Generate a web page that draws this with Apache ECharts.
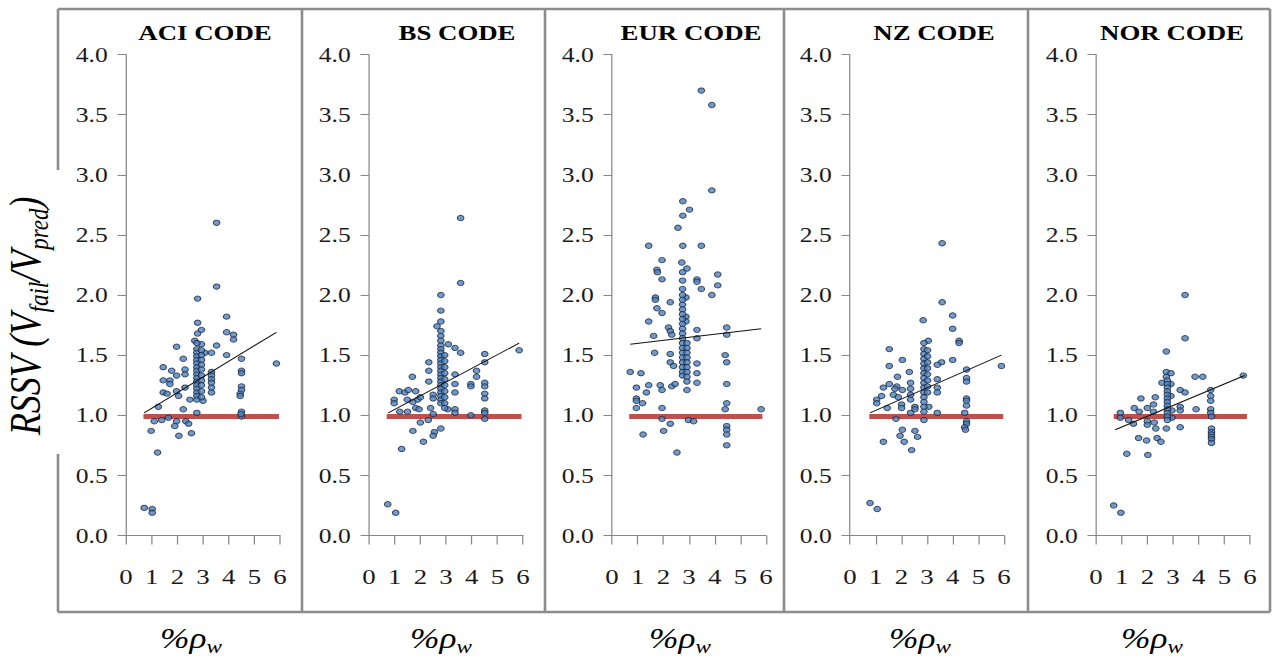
<!DOCTYPE html>
<html><head><meta charset="utf-8">
<script src="https://cdn.jsdelivr.net/npm/echarts@6.0.0/dist/echarts.min.js"></script>
<style>
html,body{margin:0;padding:0;background:#fff;overflow:hidden}
#wrap{width:1275px;height:659px;overflow:hidden}
#main{width:1045px;height:659px;transform:scaleX(1.22);transform-origin:0 0}
</style></head>
<body><div id="wrap"><div id="main"></div></div>
<script>
// ---------------- data ----------------
const panelTitles = ['ACI CODE', 'BS CODE', 'EUR CODE', 'NZ CODE', 'NOR CODE'];
const xTicks = [0, 1, 2, 3, 4, 5, 6];
const yTicks = [0, 0.5, 1, 1.5, 2, 2.5, 3, 3.5, 4];

const aciPoints = [
[0.71,0.23],[1.02,0.22],[1.02,0.19],[1.23,0.69],[0.98,0.87],[1.10,0.95],[1.39,0.96],[1.65,0.98],[1.97,0.95],[1.90,0.91],[2.33,0.95],[2.44,0.93],[2.55,0.85],[2.06,0.83],
[1.26,1.07],[2.23,1.05],[2.76,1.02],[4.50,1.03],[4.50,0.99],[4.48,1.01],
[1.45,1.19],[1.60,1.18],[1.97,1.20],[2.05,1.16],[2.30,1.23],[2.49,1.13],[3.00,1.12],[3.33,1.19],
[4.50,1.24],[4.50,1.21],[4.45,1.18],[4.45,1.16],
[1.45,1.29],[1.71,1.29],[1.71,1.26],[1.97,1.33],[1.45,1.40],[1.78,1.37],[2.30,1.38],[2.30,1.34],[4.50,1.37],[4.50,1.35],
[3.33,1.36],[3.33,1.33],[3.33,1.30],[3.33,1.27],[3.33,1.23],
[2.23,1.47],[4.50,1.47],[5.86,1.43],[1.97,1.57],[3.53,1.58],[3.07,1.52],[3.33,1.52],[3.92,1.50],
[2.94,1.59],[2.68,1.62],[4.19,1.67],[4.19,1.63],[2.79,1.68],[3.92,1.69],[2.94,1.71],[2.79,1.77],[3.92,1.82],[2.79,1.97],[3.53,2.07],[3.53,2.60],
[2.76,1.60],[2.76,1.55],[2.76,1.52],[2.76,1.49],[2.76,1.46],[2.76,1.43],[2.76,1.40],[2.76,1.37],[2.76,1.34],[2.76,1.31],[2.76,1.28],[2.76,1.25],[2.76,1.22],[2.76,1.19],[2.76,1.16],[2.76,1.13],
[2.94,1.54],[2.94,1.50],[2.94,1.46],[2.94,1.42],[2.94,1.38],[2.94,1.33],[2.94,1.29],[2.94,1.25],[2.94,1.20],[2.94,1.15]
];
const bsPoints = [
[0.73,0.26],[1.04,0.19],[1.27,0.72],[2.12,0.78],[1.71,0.87],[2.55,0.86],[2.50,0.83],[2.80,0.89],[2.00,0.94],[2.31,0.96],
[1.20,1.03],[1.50,1.03],[2.50,1.01],[3.07,1.05],[3.35,1.05],[3.35,1.02],[3.97,1.00],[4.51,1.04],[4.51,1.02],[4.51,0.97],
[2.40,1.06],[1.82,1.06],[1.95,1.05],
[0.98,1.13],[0.98,1.10],[1.49,1.13],[1.71,1.11],[1.90,1.13],[2.00,1.15],[2.50,1.17],[2.50,1.14],
[1.18,1.20],[1.40,1.19],[1.53,1.21],[1.82,1.20],
[4.51,1.27],[4.51,1.24],[4.51,1.18],[4.51,1.14],[3.97,1.26],[3.97,1.24],[4.19,1.37],[4.19,1.32],
[3.35,1.34],[3.35,1.26],[3.35,1.19],[1.69,1.32],[2.33,1.44],[2.33,1.37],[2.33,1.28],
[4.51,1.51],[4.51,1.44],[5.85,1.54],[3.09,1.59],[3.35,1.56],[3.57,1.52],
[2.80,2.00],[2.80,1.87],[2.80,1.78],[2.65,1.74],[3.57,2.10],[3.57,2.64],
[2.80,1.70],[2.80,1.66],[2.80,1.62],[2.80,1.58],[2.80,1.55],[2.80,1.52],[2.80,1.49],[2.80,1.46],[2.80,1.43],[2.80,1.40],[2.80,1.37],[2.80,1.34],[2.80,1.31],[2.80,1.28],[2.80,1.25],[2.80,1.22],[2.80,1.19],[2.80,1.16],[2.80,1.13],[2.80,1.10],
[2.95,1.50],[2.95,1.45],[2.95,1.40],[2.95,1.35],[2.95,1.30],[2.95,1.25],[2.95,1.20],[2.95,1.15],[2.95,1.10],[2.95,1.06]
];
const eurPoints = [
[3.48,3.70],[3.89,3.58],[3.89,2.87],[2.76,2.78],[3.02,2.71],[2.76,2.66],[2.57,2.56],[1.43,2.41],[2.76,2.41],[3.48,2.41],
[1.95,2.29],[2.72,2.27],[1.75,2.21],[1.77,2.19],[2.92,2.22],[1.95,2.13],[2.75,2.19],[2.75,2.12],[2.75,2.05],[3.31,2.13],[3.31,2.11],[3.48,2.05],[4.12,2.17],[4.12,2.08],[3.89,2.00],
[1.69,1.98],[1.69,1.96],[2.27,1.94],[2.88,1.98],[2.88,1.82],[2.88,1.78],[1.75,1.89],[1.95,1.85],[1.43,1.78],[1.62,1.66],[2.20,1.73],[2.27,1.70],[2.33,1.67],[3.31,1.71],[3.31,1.64],[4.47,1.73],[4.47,1.67],
[1.66,1.52],[2.27,1.51],[2.27,1.44],[2.40,1.41],[3.31,1.43],[3.31,1.35],[3.31,1.27],[4.41,1.50],[4.47,1.44],
[0.71,1.36],[1.13,1.35],[4.47,1.26],[0.95,1.23],[1.43,1.25],[1.34,1.19],[1.88,1.25],[1.95,1.21],[2.33,1.24],[2.46,1.26],[2.92,1.21],
[0.95,1.14],[0.95,1.12],[1.19,1.10],[0.95,1.06],[1.95,1.06],[4.47,1.10],[4.41,1.05],[5.81,1.05],
[1.95,0.97],[2.98,0.96],[3.18,0.95],[2.27,0.93],[2.01,0.87],[4.47,0.91],[4.47,0.88],[4.47,0.84],[1.21,0.84],[4.47,0.75],[2.53,0.69],
[2.75,2.00],[2.75,1.96],[2.75,1.92],[2.75,1.88],[2.75,1.84],[2.75,1.80],[2.75,1.76],[2.75,1.72],[2.75,1.68],[2.75,1.64],[2.75,1.60],[2.75,1.56],[2.75,1.52],[2.75,1.48],[2.75,1.44],[2.75,1.40],[2.75,1.36],[2.75,1.33],
[2.92,1.60],[2.92,1.56],[2.92,1.52],[2.92,1.48],[2.92,1.44],[2.92,1.40],[2.92,1.36],[2.92,1.32],[2.92,1.28]
];
const nzPoints = [
[3.59,2.43],[3.59,1.94],[4.00,1.83],[4.00,1.72],[2.85,1.79],[4.25,1.62],[4.25,1.60],[3.05,1.62],[2.88,1.60],[1.53,1.55],[2.04,1.46],[4.00,1.46],[3.57,1.44],[3.40,1.42],[1.53,1.41],[5.90,1.41],[2.31,1.36],[4.54,1.38],[4.54,1.31],[4.54,1.28],[1.85,1.32],[3.40,1.30],[3.40,1.23],[3.40,1.19],
[1.30,1.23],[1.53,1.26],[1.82,1.24],[1.75,1.22],[2.36,1.27],[2.36,1.22],[2.04,1.21],[1.69,1.17],[1.88,1.15],[1.23,1.16],[1.04,1.13],[1.04,1.10],[2.36,1.17],[2.36,1.13],[4.54,1.14],[4.54,1.12],[4.54,1.08],
[1.45,1.06],[2.01,1.09],[2.01,1.06],[2.53,1.07],[2.53,1.05],[3.07,1.07],[2.36,1.02],[3.40,1.02],[4.47,1.02],
[1.79,0.97],[2.88,0.96],[4.54,0.95],[4.54,0.93],[4.47,0.90],[4.50,0.88],[2.04,0.88],[2.53,0.87],[2.63,0.82],[1.95,0.83],[1.30,0.78],[2.11,0.78],[2.40,0.71],[0.78,0.27],[1.06,0.22],
[2.88,1.55],[2.88,1.51],[2.88,1.47],[2.88,1.43],[2.88,1.39],[2.88,1.35],[2.88,1.31],[2.88,1.27],[2.88,1.23],[2.88,1.19],[2.88,1.15],[2.88,1.11],[2.88,1.07],[2.88,1.03],
[3.02,1.54],[3.02,1.49],[3.02,1.44],[3.02,1.39],[3.02,1.34],[3.02,1.29],[3.02,1.24],[3.02,1.19]
];
const norPoints = [
[3.47,2.00],[3.47,1.64],[2.74,1.53],[2.74,1.36],[2.74,1.32],[2.92,1.35],[2.92,1.26],[2.92,1.16],[3.86,1.32],[4.16,1.32],[5.74,1.33],[3.28,1.21],[3.47,1.19],
[4.47,1.21],[4.47,1.16],[4.47,1.12],[4.47,1.05],[4.47,1.02],[4.50,0.99],[2.57,1.27],[1.75,1.14],[2.31,1.15],[2.24,1.09],[3.90,1.05],[3.28,1.07],[3.28,1.04],
[1.49,1.06],[1.68,1.03],[2.00,1.06],[2.24,1.03],[2.96,1.04],[2.96,0.98],[0.95,1.02],[0.95,0.98],[1.27,0.96],[1.46,0.93],[2.00,0.95],[2.00,0.92],[2.27,0.94],[2.33,0.89],[2.74,0.89],[3.28,0.90],
[4.50,0.89],[4.50,0.86],[4.50,0.84],[4.50,0.82],[4.50,0.80],[4.50,0.77],[1.66,0.81],[1.97,0.79],[2.38,0.81],[2.53,0.78],[1.20,0.68],[2.02,0.67],[0.69,0.25],[0.97,0.19],
[2.78,1.29],[2.78,1.26],[2.78,1.23],[2.78,1.20],[2.78,1.17],[2.78,1.14],[2.78,1.11],[2.78,1.08],[2.78,1.05],[2.78,1.02],[2.78,0.99],[2.78,0.96]
];

// linear trend lines (end points)
const aciTrend = [[0.71,1.02],[5.86,1.69]];
const bsTrend  = [[0.75,1.02],[5.85,1.60]];
const eurTrend = [[0.71,1.59],[5.81,1.72]];
const nzTrend  = [[0.78,1.02],[5.90,1.50]];
const norTrend = [[0.75,0.88],[5.79,1.33]];

// RSSV = 1.0 reference lines
const aciRef = [[0.68,0.99],[5.96,0.99]];
const bsRef  = [[0.69,0.99],[5.94,0.99]];
const eurRef = [[0.67,0.99],[5.86,0.99]];
const nzRef  = [[0.75,0.99],[5.97,0.99]];
const norRef = [[0.69,0.99],[5.88,0.99]];

// ---------------- layout ----------------
const S = 1.22; // horizontal stretch of the whole picture
const points = [aciPoints, bsPoints, eurPoints, nzPoints, norPoints];
const trends = [aciTrend, bsTrend, eurTrend, nzTrend, norTrend];
const refs = [aciRef, bsRef, eurRef, nzRef, norRef];
const axisLeft = [126, 369, 612, 850, 1096];
const axisW = 154;
const gridTop = 54.5, gridH = 481;
const titleX = [205, 457, 691, 934, 1172];
const xNameX = [191, 441, 680, 920, 1152];
const borders = [58, 302, 545, 784, 1028, 1270];
const bTop = 9, bBot = 612;
const serif = '"Liberation Serif", "Times New Roman", serif';
const axisColor = '#868686';

const grids = [], xAxes = [], yAxes = [], series = [];
for (let i = 0; i < 5; i++) {
  grids.push({left: axisLeft[i] / S, top: gridTop, width: axisW / S, height: gridH, outerBoundsMode: 'none'});
  xAxes.push({
    gridIndex: i, type: 'value', min: xTicks[0], max: xTicks[xTicks.length - 1], interval: 1,
    axisLine: {show: true, onZero: false, lineStyle: {color: axisColor, width: 1}},
    axisTick: {show: true, length: 9, lineStyle: {color: axisColor, width: 1}},
    axisLabel: {margin: 30, fontFamily: serif, fontSize: 22, color: '#1a1a1a', showMinLabel: true, showMaxLabel: true},
    splitLine: {show: false}
  });
  yAxes.push({
    gridIndex: i, type: 'value', min: yTicks[0], max: yTicks[yTicks.length - 1], interval: 0.5,
    axisLine: {show: true, onZero: false, lineStyle: {color: axisColor, width: 1}},
    axisTick: {show: true, length: 7, lineStyle: {color: axisColor, width: 1}},
    axisLabel: {margin: 15, fontFamily: serif, fontSize: 21, color: '#1a1a1a', formatter: v => v.toFixed(1)},
    splitLine: {show: false}
  });
  series.push({
    type: 'line', xAxisIndex: i, yAxisIndex: i, data: refs[i], symbol: 'none', silent: true, z: 2,
    lineStyle: {color: '#c0504d', width: 5}
  });
  series.push({
    type: 'scatter', xAxisIndex: i, yAxisIndex: i, data: points[i], symbolSize: 5.4, z: 3,
    itemStyle: {color: '#4f81bd', borderColor: '#14233a', borderWidth: 0.9}
  });
  series.push({
    type: 'line', xAxisIndex: i, yAxisIndex: i, data: trends[i], symbol: 'none', silent: true, z: 4,
    lineStyle: {color: '#111', width: 1}
  });
}

const g = [];
const bStyle = {stroke: '#8c8c8c', lineWidth: 2.6};
g.push({type: 'line', silent: true, shape: {x1: borders[0] / S, y1: bTop, x2: borders[5] / S, y2: bTop}, style: bStyle});
g.push({type: 'line', silent: true, shape: {x1: borders[0] / S, y1: bBot, x2: borders[5] / S, y2: bBot}, style: bStyle});
const vStyle = {stroke: '#8c8c8c', lineWidth: 2.6 / S};
g.push({type: 'line', silent: true, shape: {x1: borders[0] / S, y1: bTop, x2: borders[0] / S, y2: 170}, style: vStyle});
g.push({type: 'line', silent: true, shape: {x1: borders[0] / S, y1: 454, x2: borders[0] / S, y2: bBot}, style: vStyle});
for (let k = 1; k < borders.length; k++) {
  g.push({type: 'line', silent: true, shape: {x1: borders[k] / S, y1: bTop, x2: borders[k] / S, y2: bBot}, style: vStyle});
}
for (let i = 0; i < 5; i++) {
  g.push({type: 'text', silent: true, x: titleX[i] / S, y: 32, style: {
    text: panelTitles[i], fontFamily: serif, fontWeight: 'bold', fontSize: 22, fill: '#000',
    align: 'center', verticalAlign: 'middle'}});
  g.push({type: 'text', silent: true, x: xNameX[i] / S, y: 638, style: {
    text: '{a|%ρ}{b|w}', align: 'center', verticalAlign: 'middle',
    rich: {
      a: {fontFamily: serif, fontStyle: 'italic', fontSize: 29, lineHeight: 36, fill: '#000'},
      b: {fontFamily: serif, fontStyle: 'italic', fontSize: 19, lineHeight: 19, verticalAlign: 'bottom', fill: '#000'}
    }}});
}
g.push({type: 'text', silent: true, x: 21, y: 316, rotation: Math.PI / 2, style: {
  text: '{a|RSSV (V}{b|fail}{a|/V}{b|pred}{a|)}', align: 'center', verticalAlign: 'middle',
  rich: {
    a: {fontFamily: serif, fontStyle: 'italic', fontSize: 36, lineHeight: 44, fill: '#000'},
    b: {fontFamily: serif, fontStyle: 'italic', fontSize: 23, lineHeight: 23, verticalAlign: 'bottom', fill: '#000'}
  }}});

const chart = echarts.init(document.getElementById('main'), null, {renderer: 'svg'});
chart.setOption({
  animation: false,
  backgroundColor: '#fff',
  grid: grids, xAxis: xAxes, yAxis: yAxes, series: series,
  graphic: {elements: g}
});
</script></body></html>
